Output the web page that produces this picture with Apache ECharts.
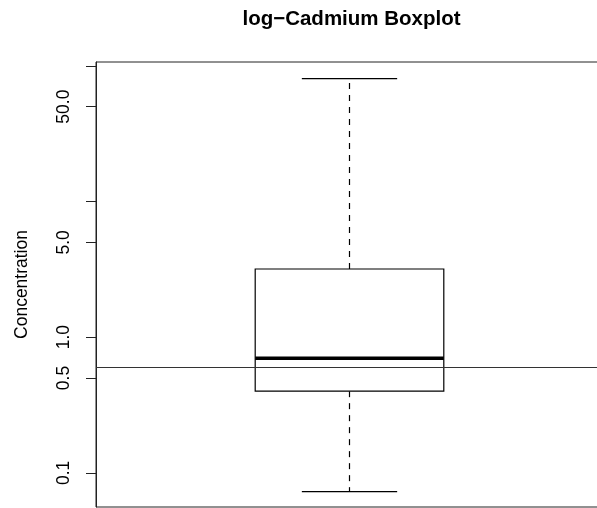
<!DOCTYPE html>
<html>
<head>
<meta charset="utf-8">
<title>log-Cadmium Boxplot</title>
<script src="https://cdn.jsdelivr.net/npm/echarts@6/dist/echarts.min.js"></script>
<style>
  html, body { margin: 0; padding: 0; background: #fff; }
  #chart { width: 597px; height: 508px; }
</style>
</head>
<body>
<div id="chart"></div>
<script>
// Valores (escala log)
const boxPosition = [1];
const lowerWhisker = [0.0726];
const lowerQuartile = [0.40];
const medianValue = [0.698];
const upperQuartile = [3.18];
const upperWhisker = [80.5];
const refLine = [0.6];

const tickValues = [0.1, 0.5, 1, 5, 10, 50, 100];
const labelValues = [0.1, 0.5, 1, 5, 50];

const FONT = 'Liberation Sans, Arial, Helvetica, sans-serif';
const BOX_HALF = 0.186;
const CAP_HALF = 0.094;

const dom = document.getElementById('chart');
const myChart = echarts.init(dom, null, { renderer: 'canvas' });

const boxData = boxPosition.map((x, i) => [
  x,
  lowerWhisker[i],
  lowerQuartile[i],
  medianValue[i],
  upperQuartile[i],
  upperWhisker[i],
]);

/**
 * Dibuja la caja al estilo de R: bigotes discontinuos, mediana gruesa
 */
function renderBox(params, api) {
  const cx = api.value(0);
  const pLow = api.coord([cx, api.value(1)]);
  const pQ1 = api.coord([cx, api.value(2)]);
  const pMed = api.coord([cx, api.value(3)]);
  const pQ3 = api.coord([cx, api.value(4)]);
  const pHigh = api.coord([cx, api.value(5)]);
  const boxL = api.coord([cx - BOX_HALF, api.value(3)])[0];
  const boxR = api.coord([cx + BOX_HALF, api.value(3)])[0];
  const capL = api.coord([cx - CAP_HALF, api.value(3)])[0];
  const capR = api.coord([cx + CAP_HALF, api.value(3)])[0];

  const thin = { stroke: '#000', lineWidth: 1.2, fill: null };
  const dashed = { stroke: '#000', lineWidth: 1.2, lineDash: [6, 6] };

  return {
    type: 'group',
    children: [
      { type: 'line', shape: { x1: pQ3[0], y1: pQ3[1], x2: pHigh[0], y2: pHigh[1] }, style: dashed },
      { type: 'line', shape: { x1: pQ1[0], y1: pQ1[1], x2: pLow[0], y2: pLow[1] }, style: dashed },
      { type: 'line', shape: { x1: capL, y1: pHigh[1], x2: capR, y2: pHigh[1] }, style: thin },
      { type: 'line', shape: { x1: capL, y1: pLow[1], x2: capR, y2: pLow[1] }, style: thin },
      {
        type: 'rect',
        shape: { x: boxL, y: pQ3[1], width: boxR - boxL, height: pQ1[1] - pQ3[1] },
        style: { stroke: '#000', lineWidth: 1.2, fill: '#fff' },
      },
      { type: 'line', shape: { x1: boxL, y1: pMed[1], x2: boxR, y2: pMed[1] }, style: { stroke: '#000', lineWidth: 3.5 } },
    ],
  };
}

const option = {
  animation: false,
  backgroundColor: '#fff',
  textStyle: { fontFamily: FONT },
  title: {
    text: 'log\u2212Cadmium Boxplot',
    left: 351.5,
    top: 9,
    padding: 0,
    textAlign: 'center',
    textStyle: { fontFamily: FONT, fontWeight: 'bold', fontSize: 20.5, color: '#000' },
  },
  grid: {
    left: 96,
    top: 62,
    width: 507,
    height: 445,
    outerBoundsMode: 'none',
    containLabel: false,
    show: true,
    borderColor: '#222',
    borderWidth: 1,
    backgroundColor: 'transparent',
  },
  xAxis: {
    type: 'value',
    min: 0.5,
    max: 1.5,
    show: false,
  },
  yAxis: {
    type: 'log',
    logBase: 10,
    min: 0.056,
    max: 106.7,
    name: 'Concentration',
    nameLocation: 'middle',
    nameRotate: 90,
    nameGap: 65,
    nameTextStyle: { fontFamily: FONT, fontSize: 17.5, color: '#000' },
    axisLine: { show: true, lineStyle: { color: '#222', width: 1 } },
    axisTick: {
      show: true,
      inside: false,
      length: 10,
      customValues: tickValues,
      lineStyle: { color: '#222', width: 1 },
    },
    minorTick: { show: false },
    splitLine: { show: false },
    axisLabel: {
      rotate: 90,
      margin: 23,
      customValues: labelValues,
      fontFamily: FONT,
      fontSize: 17.5,
      color: '#000',
      formatter: (v) => Number(v).toFixed(1),
    },
  },
  series: [
    {
      type: 'custom',
      name: 'log-Cadmium',
      renderItem: renderBox,
      encode: { x: 0, y: [1, 2, 3, 4, 5] },
      data: boxData,
      clip: true,
      z: 2,
    },
    {
      type: 'line',
      name: 'ref',
      data: [],
      z: 1,
      markLine: {
        silent: true,
        symbol: 'none',
        label: { show: false },
        lineStyle: { color: '#333', type: 'solid', width: 1 },
        data: refLine.map((v) => ({ yAxis: v })),
      },
    },
  ],
};

myChart.setOption(option);
</script>
</body>
</html>
